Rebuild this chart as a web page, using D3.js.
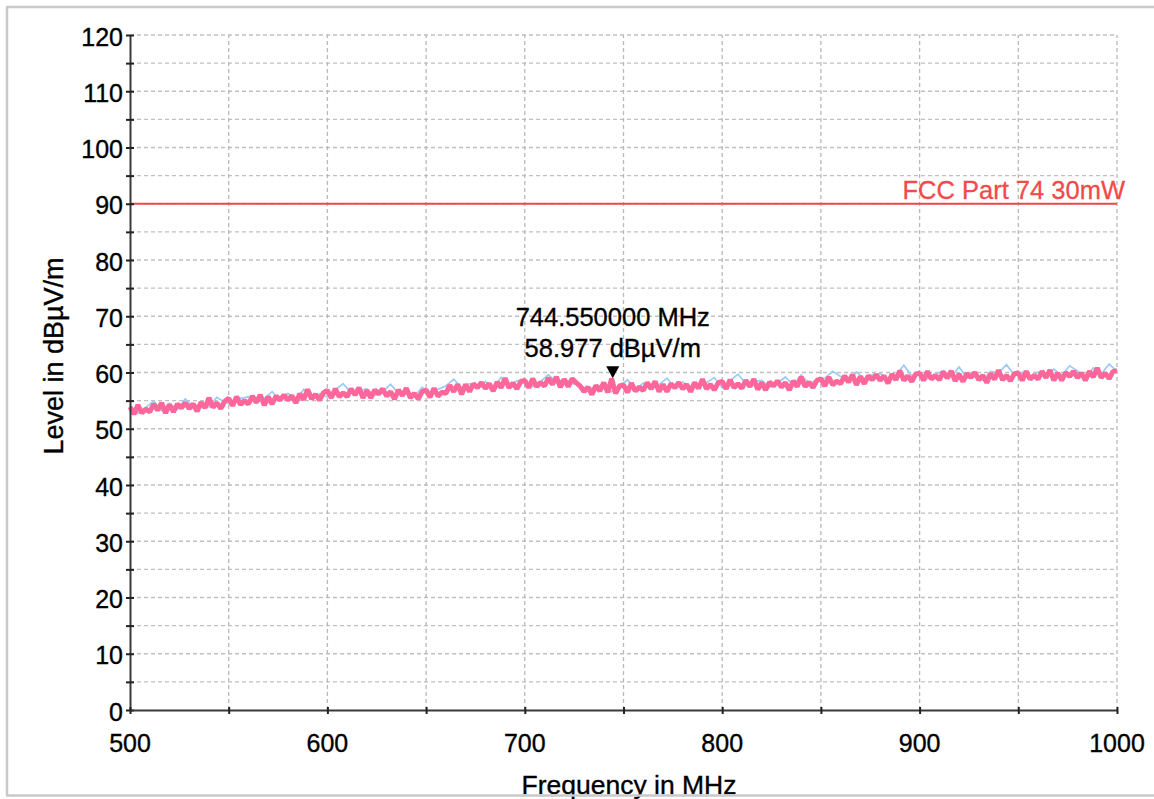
<!DOCTYPE html>
<html>
<head>
<meta charset="utf-8">
<script src="https://cdn.jsdelivr.net/npm/d3@7"></script>
<style>
  html, body { margin: 0; padding: 0; background: #fff; }
  svg text { font-family: "Liberation Sans", Arial, sans-serif; }
  .lbl { fill: #000; stroke: #000; stroke-width: 0.35px; }
</style>
</head>
<body>
<div id="chart"></div>
<script>
// sweep: 500..1000 MHz
var pinkStart = 500, pinkStep = 2;
var pinkLevel = [
  53.9, 52.6, 54.2, 52.8, 53.5,  53.0, 54.4, 53.3, 54.6, 52.8,
  54.3, 53.0, 54.4, 53.7, 54.6,  53.6, 54.4, 53.1, 54.7, 53.7,
  55.5, 53.8, 54.6, 53.6, 54.9,  55.4, 54.1, 55.7, 54.3, 55.0,
  54.4, 55.8, 54.7, 56.0, 54.2,  55.7, 54.4, 55.8, 55.1, 56.0,
  55.1, 55.9, 54.6, 56.2, 55.2,  57.0, 55.3, 56.1, 55.1, 56.4,
  56.8, 55.5, 57.1, 55.7, 56.4,  55.7, 57.1, 56.0, 57.3, 55.5,
  56.8, 55.5, 56.9, 56.2, 57.1,  55.8, 56.6, 55.3, 56.9, 55.9,
  57.2, 55.5, 56.3, 55.3, 56.6,  56.9, 55.6, 57.2, 55.8, 56.5,
  56.3, 57.7, 56.6, 57.9, 56.1,  57.9, 56.6, 58.0, 57.3, 58.2,
  57.2, 58.0, 56.7, 58.3, 57.3,  59.0, 57.3, 58.1, 57.1, 58.4,
  58.6, 57.3, 58.9, 57.5, 58.2,  57.6, 59.0, 57.9, 59.2, 57.4,
  58.8, 57.5, 58.9, 58.2, 57.6,  56.6, 57.4, 56.1, 57.7, 56.7,
  58.2, 56.5, 58.9, 56.3, 57.6,  57.8, 56.5, 58.1, 56.7, 57.4,
  56.8, 58.2, 57.1, 58.4, 56.6,  57.9, 56.6, 58.0, 57.3, 58.2,
  57.1, 57.9, 56.6, 58.2, 57.2,  58.8, 57.1, 57.9, 56.9, 58.2,
  58.4, 57.1, 58.7, 57.3, 58.0,  57.2, 58.6, 57.5, 58.8, 57.0,
  58.2, 56.9, 58.3, 57.6, 58.5,  57.4, 58.2, 56.9, 58.5, 57.5,
  59.2, 57.5, 58.3, 57.3, 58.6,  58.9, 57.6, 59.2, 57.8, 58.5,
  58.0, 59.4, 58.3, 59.6, 57.8,  59.3, 58.0, 59.4, 58.7, 59.6,
  58.6, 59.4, 58.1, 59.7, 58.7,  60.3, 58.6, 59.4, 58.4, 59.7,
  59.9, 58.6, 60.2, 58.8, 59.5,  58.7, 60.1, 59.0, 60.3, 58.5,
  59.7, 58.4, 59.8, 59.1, 60.0,  58.7, 59.5, 58.2, 59.8, 58.8,
  60.4, 58.7, 59.5, 58.5, 59.8,  59.9, 58.6, 60.2, 58.8, 59.5,
  58.8, 60.2, 59.1, 60.4, 58.6,  59.9, 58.6, 60.0, 59.3, 60.2,
  59.1, 59.9, 58.6, 60.2, 59.2,  60.8, 59.1, 59.9, 58.9, 60.2,
  60.3
];

var blueStart = 500, blueStep = 4;
var blueLevel = [
  54.1, 52.7, 53.8, 54.9, 53.2,  54.5, 53.4, 55.3, 53.8, 54.6,
  53.9, 55.6, 54.7, 54.2, 55.4,  55.7, 54.5, 55.4, 56.6, 55.0,
  56.3, 55.1, 57.0, 55.6, 56.2,  55.7, 56.9, 58.0, 56.3, 56.8,
  57.1, 55.9, 56.6, 57.9, 56.2,  56.8, 55.7, 57.4, 56.1, 57.0,
  57.6, 58.8, 57.3, 58.0, 57.4,  58.4, 57.2, 59.1, 57.8, 58.5,
  58.7, 57.5, 58.4, 59.6, 58.2,  58.9, 58.0, 57.8, 56.9, 57.6,
  57.8, 56.6, 57.5, 58.7, 57.0,  58.1, 57.0, 57.8, 59.0, 57.3,
  58.3, 57.1, 57.9, 58.2, 59.1,  57.3, 58.5, 59.7, 58.0, 58.4,
  58.6, 57.4, 58.1, 59.2, 57.7,  59.6, 58.0, 58.7, 59.0, 60.2,
  59.3, 58.2, 60.1, 58.9, 59.6,  59.8, 58.7, 59.5, 61.3, 59.4,
  60.0, 58.9, 59.7, 60.3, 59.2,  61.0, 59.0, 59.8, 58.6, 60.2,
  59.9, 61.4, 59.5, 60.0, 58.9,  60.1, 59.2, 60.6, 59.5, 61.2,
  60.3, 59.1, 60.8, 59.7, 61.5,
  60.2
];

var limitName = "FCC Part 74 30mW";
var limitLevel = 90;
var markerFreq = 744.55;
var markerLevel = 58.977;
var yTicks = d3.range(0, 121, 10);
var xTicks = [500, 600, 700, 800, 900, 1000];

var W = 1154, H = 799;
var x = d3.scaleLinear().domain([500, 1000]).range([130, 1117]);
var y = d3.scaleLinear().domain([0, 120]).range([710, 35]);

var svg = d3.select("#chart").append("svg")
  .attr("width", W).attr("height", H);

// grid
var grid = svg.append("g");
grid.selectAll(".gy").data(d3.range(5, 121, 5)).enter().append("line")
  .attr("x1", x(500)).attr("x2", x(1000))
  .attr("y1", d => y(d)).attr("y2", d => y(d))
  .attr("stroke", "#c0c0c0").attr("stroke-width", 1.3)
  .attr("stroke-dasharray", "4,3");
grid.selectAll(".gx").data(d3.range(550, 1001, 50)).enter().append("line")
  .attr("x1", d => x(d)).attr("x2", d => x(d))
  .attr("y1", y(0)).attr("y2", y(120))
  .attr("stroke", "#b8b8b8").attr("stroke-width", 1.3)
  .attr("stroke-dasharray", "4,3");

// limit
svg.append("line")
  .attr("x1", x(500)).attr("x2", x(1000))
  .attr("y1", y(limitLevel)).attr("y2", y(limitLevel))
  .attr("stroke", "#f04848").attr("stroke-width", 2);
svg.append("text")
  .attr("x", 1125).attr("y", y(limitLevel) - 5)
  .attr("text-anchor", "end").attr("font-size", 25.5)
  .attr("fill", "#f24a4a").attr("stroke", "#f24a4a").attr("stroke-width", 0.3)
  .text(limitName);

// traces
var blueLine = d3.line()
  .x((d, i) => x(blueStart + i * blueStep))
  .y(d => y(d));
var pinkLine = d3.line()
  .x((d, i) => x(pinkStart + i * pinkStep))
  .y(d => y(d));

svg.append("path").datum(blueLevel)
  .attr("d", blueLine).attr("fill", "none")
  .attr("stroke", "#9ccbf8").attr("stroke-width", 1.7);
svg.append("path").datum(pinkLevel)
  .attr("d", pinkLine).attr("fill", "none")
  .attr("stroke", "#ff6699").attr("stroke-width", 5)
  .attr("stroke-linejoin", "bevel");

// marker
var mx = x(markerFreq), my = y(markerLevel);
svg.append("path")
  .attr("d", `M${mx - 6.5},${my - 12} L${mx + 6.5},${my - 12} L${mx},${my} Z`)
  .attr("fill", "#000");
svg.append("text").attr("class", "lbl")
  .attr("x", mx).attr("y", my - 52)
  .attr("text-anchor", "middle").attr("font-size", 25.5)
  .text(markerFreq.toFixed(6) + " MHz");
svg.append("text").attr("class", "lbl")
  .attr("x", mx).attr("y", my - 21)
  .attr("text-anchor", "middle").attr("font-size", 25.5)
  .text(markerLevel.toFixed(3) + " dB\u00b5V/m");

// axes
var yAxis = svg.append("g").attr("transform", `translate(${x(500)},0)`)
  .call(d3.axisLeft(y).tickValues(d3.range(0, 121, 5))
    .tickSize(0).tickFormat(""));
yAxis.select(".domain").attr("stroke", "#3a3a3a").attr("stroke-width", 2);
yAxis.selectAll(".tick").append("line")
  .attr("x1", -4).attr("x2", 4).attr("stroke", "#222").attr("stroke-width", 2);
svg.append("g").selectAll("text").data(yTicks).enter().append("text")
  .attr("class", "lbl")
  .attr("x", 123).attr("y", d => y(d)).attr("dy", "0.42em")
  .attr("text-anchor", "end").attr("font-size", 25)
  .text(d => d);

var xAxis = svg.append("g").attr("transform", `translate(0,${y(0)})`)
  .call(d3.axisBottom(x).tickValues(d3.range(500, 1001, 50))
    .tickSize(0).tickFormat(""));
xAxis.select(".domain").attr("stroke", "#3a3a3a").attr("stroke-width", 2);
xAxis.selectAll(".tick").append("line")
  .attr("y1", -3).attr("y2", 4).attr("stroke", "#222").attr("stroke-width", 2);
svg.append("g").selectAll("text").data(xTicks).enter().append("text")
  .attr("class", "lbl")
  .attr("x", d => x(d)).attr("y", 752)
  .attr("text-anchor", "middle").attr("font-size", 25)
  .text(d => d);

// titles
svg.append("text").attr("class", "lbl")
  .attr("transform", "translate(63,356) rotate(-90)")
  .attr("text-anchor", "middle").attr("font-size", 27)
  .text("Level in dB\u00b5V/m");
svg.append("text").attr("class", "lbl")
  .attr("x", 629).attr("y", 794)
  .attr("text-anchor", "middle").attr("font-size", 26.5)
  .text("Frequency in MHz");

// outer frame
var frame = svg.append("g").attr("stroke", "#c9c9c9").attr("stroke-width", 2.5);
frame.append("line").attr("x1", 7).attr("x2", 7).attr("y1", 7).attr("y2", 796);
frame.append("line").attr("x1", 6).attr("x2", W).attr("y1", 7).attr("y2", 7);
frame.append("line").attr("x1", 6).attr("x2", W).attr("y1", 795.5).attr("y2", 795.5);
</script>
</body>
</html>
